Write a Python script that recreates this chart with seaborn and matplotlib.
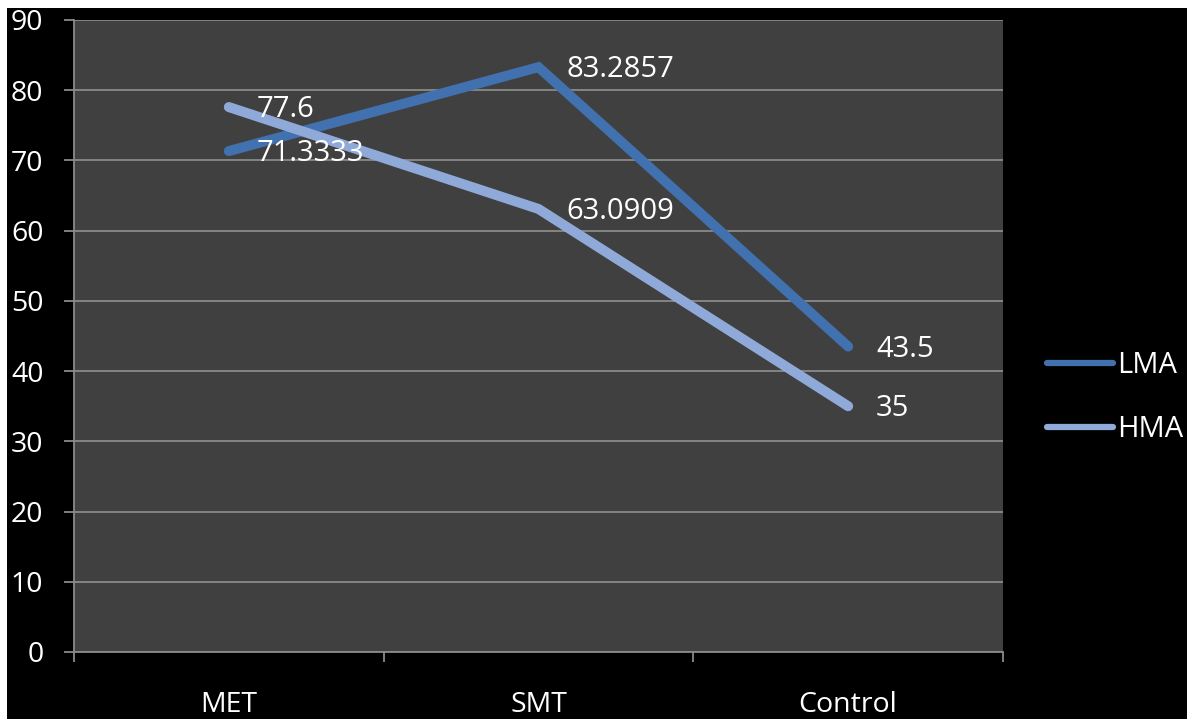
import matplotlib
matplotlib.use("Agg")
import matplotlib.pyplot as plt
from matplotlib.patches import Rectangle
import seaborn as sns
import pandas as pd

# Mean scores per teaching method, by maths-anxiety group
categories = ["MET", "SMT", "Control"]
lma_values = [71.3333, 83.2857, 43.5]
hma_values = [77.6, 63.0909, 35]
series_names = ["LMA", "HMA"]
y_ticks = [0, 10, 20, 30, 40, 50, 60, 70, 80, 90]

palette = {"LMA": "#4171AE", "HMA": "#8FAAD9"}
grid_color = "#8a8a8a"

sns.set_style("dark")
plt.rcParams["font.family"] = ["Open Sans", "DejaVu Sans"]

df = pd.DataFrame({
    "group": categories * 2,
    "score": lma_values + hma_values,
    "series": [series_names[0]] * 3 + [series_names[1]] * 3,
})

fig = plt.figure(figsize=(11.87, 7.19), dpi=100, facecolor="white")
# black slide background, leaving the thin white margins at top and left
fig.add_artist(Rectangle((7 / 1187, 0), 1, 1 - 8 / 719, transform=fig.transFigure,
                         facecolor="black", edgecolor="none", zorder=-10))

ax = fig.add_axes([74 / 1187, 67 / 719, 929 / 1187, 632 / 719])
ax.set_facecolor("#404040")

sns.lineplot(data=df, x="group", y="score", hue="series", palette=palette,
             sort=False, linewidth=7.2, solid_capstyle="round",
             solid_joinstyle="miter", ax=ax, legend=True, zorder=3)

ax.set_xlim(-0.5, 2.5)
ax.set_ylim(0, 90)
ax.set_yticks(y_ticks)
ax.set_xticks(range(len(categories)))
ax.set_xticklabels(categories)
ax.set_xticks([-0.5, 0.5, 1.5, 2.5], minor=True)
ax.set_xlabel("")
ax.set_ylabel("")

ax.grid(False)
ax.yaxis.grid(True, color=grid_color, linewidth=1.3)
for side in ["top", "right"]:
    ax.spines[side].set_visible(False)
for side in ["left", "bottom"]:
    ax.spines[side].set_visible(True)
    ax.spines[side].set_color(grid_color)
    ax.spines[side].set_linewidth(1.3)

ax.tick_params(axis="y", which="major", length=7, width=1.3, color=grid_color,
               labelcolor="white", labelsize=20.5, pad=15, left=True, direction="out")
ax.tick_params(axis="x", which="major", length=0, labelsize=20.5, labelcolor="white", pad=28)
ax.tick_params(axis="x", which="minor", length=7, width=1.3, color=grid_color,
               bottom=True, direction="out")

# value labels beside each point
for vals in (lma_values, hma_values):
    for i, v in enumerate(vals):
        ax.annotate(f"{v:g}", xy=(i, v), xytext=(20, -2), textcoords="offset points",
                    ha="left", va="center", color="white", fontsize=21, zorder=5)

leg = ax.get_legend()
handles, labels = ax.get_legend_handles_labels()
leg.remove()
new_leg = fig.legend(handles, labels, loc="center left",
                     bbox_to_anchor=(1047 / 1187, 1 - 397.5 / 719),
                     frameon=False, fontsize=21, labelcolor="white", handlelength=2.25,
                     handletextpad=0.15, labelspacing=1.2, borderpad=0, borderaxespad=0)
for line in new_leg.get_lines():
    line.set_linewidth(4.5)
    line.set_solid_capstyle("round")

fig.savefig("out.png", dpi=100, facecolor=fig.get_facecolor())
